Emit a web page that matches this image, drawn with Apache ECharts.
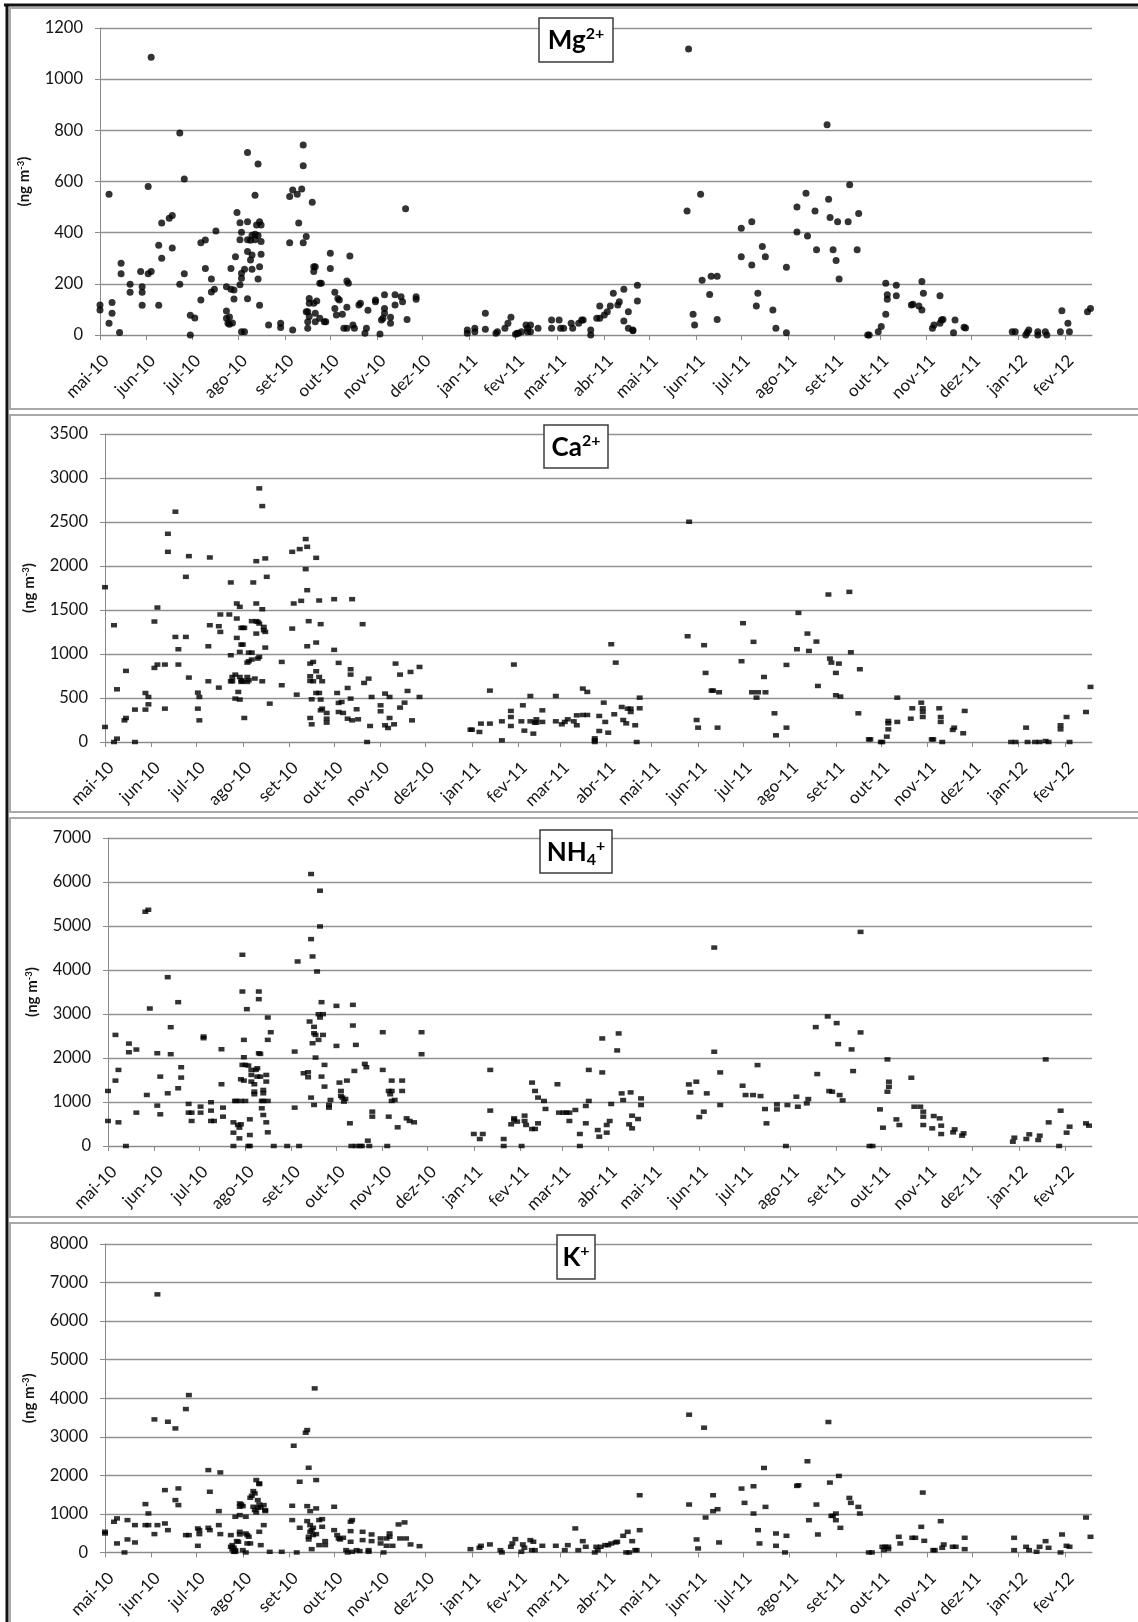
<!DOCTYPE html>
<html>
<head>
<meta charset="utf-8">
<script src="https://cdn.jsdelivr.net/npm/echarts@6/dist/echarts.min.js"></script>
<style>
  html, body { margin: 0; padding: 0; background: #fff; }
  #chart { width: 1138px; height: 1622px; }
</style>
</head>
<body>
<div id="chart"></div>
<script>
// Month ticks of the shared date axis
const xTickDates = ['2010-05-01','2010-06-01','2010-07-01','2010-08-01','2010-09-01','2010-10-01','2010-11-01','2010-12-01',
  '2011-01-01','2011-02-01','2011-03-01','2011-04-01','2011-05-01','2011-06-01','2011-07-01','2011-08-01','2011-09-01',
  '2011-10-01','2011-11-01','2011-12-01','2012-01-01','2012-02-01'];
const xTickLabels = ['mai-10','jun-10','jul-10','ago-10','set-10','out-10','nov-10','dez-10',
  'jan-11','fev-11','mar-11','abr-11','mai-11','jun-11','jul-11','ago-11','set-11',
  'out-11','nov-11','dez-11','jan-12','fev-12'];
const xStart = '2010-05-01';
const xEnd = '2012-02-19';

// Ion names and y-axis ranges
const ionLabels = ['{b|Mg}{p|2+}', '{b|Ca}{p|2+}', '{b|NH}{d|4}{p|+}', '{b|K}{p|+}'];
const yMaxes = [1200, 3500, 7000, 8000];
const ySteps = [200, 500, 1000, 1000];

// Mg2+ (ng m-3)
const mgData = [
['2010-05-01',117],['2010-05-01',98],['2010-05-07',550],['2010-05-07',46],['2010-05-09',127],['2010-05-09',85],['2010-05-14',10],['2010-05-15',280],['2010-05-15',239],['2010-05-21',198],['2010-05-21',167],['2010-05-28',248],['2010-05-29',189],['2010-05-29',167],['2010-05-29',116],
['2010-06-02',580],['2010-06-02',239],['2010-06-04',1086],['2010-06-04',248],['2010-06-09',116],['2010-06-09',351],['2010-06-11',300],['2010-06-11',438],['2010-06-16',456],['2010-06-18',467],['2010-06-18',340],['2010-06-23',790],['2010-06-23',198],['2010-06-26',610],['2010-06-26',239],['2010-06-30',0],['2010-06-30',77],
['2010-07-03',66],['2010-07-07',361],['2010-07-10',371],['2010-07-07',137],['2010-07-10',260],['2010-07-14',219],['2010-07-14',168],['2010-07-16',179],['2010-07-17',407],['2010-07-24',189],['2010-07-24',94],['2010-07-24',65],['2010-07-25',46],['2010-07-26',70],['2010-07-26',42],['2010-07-27',260],['2010-07-27',179],['2010-07-28',47],['2010-07-29',176],['2010-07-29',141],['2010-07-30',306],['2010-07-31',479],
['2010-08-02',439],['2010-08-02',372],['2010-08-02',196],['2010-08-03',222],['2010-08-03',241],['2010-08-03',13],['2010-08-05',13],['2010-08-03',402],['2010-08-05',257],['2010-08-07',713],['2010-08-07',142],['2010-08-07',372],['2010-08-07',443],['2010-08-07',326],['2010-08-09',293],['2010-08-09',370],['2010-08-10',257],['2010-08-10',313],['2010-08-10',390],['2010-08-12',546],['2010-08-12',394],['2010-08-12',372],['2010-08-13',430],['2010-08-14',389],['2010-08-14',668],['2010-08-14',219],['2010-08-15',443],['2010-08-15',267],['2010-08-15',116],['2010-08-16',316],['2010-08-16',365],['2010-08-16',430],['2010-08-21',39],['2010-08-29',46],['2010-08-29',29],
['2010-09-04',541],['2010-09-04',361],['2010-09-06',567],['2010-09-06',20],['2010-09-09',550],['2010-09-10',438],['2010-09-12',571],['2010-09-13',743],['2010-09-13',662],['2010-09-13',361],['2010-09-15',385],['2010-09-15',91],['2010-09-16',91],['2010-09-16',52],['2010-09-16',26],['2010-09-17',124],['2010-09-17',72],['2010-09-17',143],['2010-09-19',519],['2010-09-20',248],['2010-09-20',267],['2010-09-21',267],['2010-09-20',124],['2010-09-21',85],['2010-09-22',133],['2010-09-21',52],['2010-09-24',65],['2010-09-24',202],['2010-09-25',202],['2010-09-27',52],['2010-09-28',52],
['2010-10-01',320],['2010-10-01',260],['2010-10-04',167],['2010-10-04',104],['2010-10-05',78],['2010-10-06',143],['2010-10-07',137],['2010-10-09',81],['2010-10-12',211],['2010-10-13',202],['2010-10-14',309],['2010-10-12',108],['2010-10-10',26],['2010-10-12',26],['2010-10-16',39],['2010-10-17',26],['2010-10-20',117],['2010-10-21',124],['2010-10-24',7],['2010-10-25',26],['2010-10-26',97],['2010-10-31',130],['2010-10-31',137],
['2010-11-03',4],['2010-11-04',59],['2010-11-05',65],['2010-11-06',85],['2010-11-06',104],['2010-11-06',157],['2010-11-10',69],['2010-11-10',46],['2010-11-13',157],['2010-11-13',117],['2010-11-17',150],['2010-11-18',130],['2010-11-20',493],['2010-11-21',61],['2010-11-27',150],['2010-11-27',140],
['2010-12-31',7],['2010-12-31',20],['2011-01-05',13],['2011-01-05',26],['2011-01-12',85],['2011-01-12',22],['2011-01-19',7],['2011-01-20',13],['2011-01-25',26],['2011-01-27',46],['2011-01-29',69],['2011-02-01',3],['2011-02-02',7],['2011-02-03',7],['2011-02-05',13],['2011-02-08',39],['2011-02-09',13],['2011-02-09',26],['2011-02-11',39],['2011-02-11',13],['2011-02-16',26],['2011-02-25',59],['2011-02-25',26],['2011-03-02',59],['2011-03-03',26],['2011-03-05',26],['2011-03-10',46],['2011-03-11',26],
['2011-03-15',46],['2011-03-17',59],['2011-03-18',59],['2011-03-23',20],['2011-03-23',0],['2011-03-27',65],['2011-03-29',65],['2011-03-29',113],['2011-04-01',78],['2011-04-03',91],['2011-04-05',113],['2011-04-07',163],['2011-04-10',117],['2011-04-11',130],['2011-04-14',55],['2011-04-14',179],['2011-04-17',91],['2011-04-17',26],['2011-04-20',20],['2011-04-20',17],['2011-04-23',133],['2011-04-23',194],
['2011-05-26',485],['2011-05-27',1118],['2011-05-30',81],['2011-05-31',39],['2011-06-04',550],['2011-06-05',214],['2011-06-10',158],['2011-06-11',230],['2011-06-15',230],['2011-06-15',61],['2011-07-01',306],['2011-07-01',417],['2011-07-08',443],['2011-07-08',274],['2011-07-12',163],['2011-07-11',113],['2011-07-15',346],['2011-07-17',306],['2011-07-22',98],['2011-07-24',26],['2011-07-31',9],['2011-07-31',265],
['2011-08-07',403],['2011-08-07',500],['2011-08-13',554],['2011-08-14',387],['2011-08-19',485],['2011-08-20',333],['2011-08-27',822],['2011-08-28',531],['2011-08-29',459],['2011-08-31',333],['2011-09-02',291],['2011-09-03',443],['2011-09-04',219],['2011-09-10',443],['2011-09-11',587],['2011-09-16',333],['2011-09-17',475],['2011-09-23',0],['2011-09-24',0],['2011-09-30',13],
['2011-10-02',33],['2011-10-05',81],['2011-10-06',157],['2011-10-06',140],['2011-10-05',202],['2011-10-12',153],['2011-10-12',194],['2011-10-22',117],['2011-10-23',120],['2011-10-27',113],['2011-10-29',98],['2011-10-29',209],['2011-10-30',163],['2011-11-05',26],['2011-11-06',39],['2011-11-10',46],['2011-11-11',59],['2011-11-10',153],['2011-11-12',61],['2011-11-19',9],['2011-11-20',59],['2011-11-26',30],['2011-11-27',27],
['2011-12-28',13],['2011-12-30',13],['2012-01-06',0],['2012-01-07',10],['2012-01-08',20],['2012-01-14',0],['2012-01-14',13],['2012-01-19',13],['2012-01-20',0],['2012-01-29',13],['2012-01-30',95],['2012-02-03',46],['2012-02-04',13],['2012-02-16',91],['2012-02-18',104]
];

// Ca2+ (ng m-3)
const caData = [
['2010-05-01',1759],['2010-05-01',171],['2010-05-07',1327],['2010-05-07',0],['2010-05-09',599],['2010-05-09',38],['2010-05-14',246],['2010-05-15',273],['2010-05-15',808],['2010-05-21',368],['2010-05-21',0],['2010-05-28',368],['2010-05-28',557],['2010-05-30',512],['2010-05-30',428],
['2010-06-03',842],['2010-06-05',880],['2010-06-03',1369],['2010-06-05',1528],['2010-06-10',379],['2010-06-10',880],['2010-06-12',2366],['2010-06-12',2161],['2010-06-17',2617],['2010-06-17',1194],['2010-06-19',1054],['2010-06-19',880],['2010-06-24',1877],['2010-06-24',1194],['2010-06-26',2112],['2010-06-26',732],
['2010-07-02',561],['2010-07-02',379],['2010-07-03',512],['2010-07-03',246],['2010-07-09',1088],['2010-07-10',1327],['2010-07-10',2097],['2010-07-09',690],['2010-07-16',618],['2010-07-16',1316],['2010-07-17',1251],['2010-07-17',1449],
['2010-07-24',1813],['2010-07-23',1449],['2010-07-28',1574],['2010-07-28',1403],['2010-07-28',1183],['2010-07-30',1536],['2010-07-24',986],['2010-07-25',739],['2010-07-27',766],['2010-07-24',690],['2010-07-25',690],['2010-07-27',493],['2010-07-29',569],['2010-07-30',482],['2010-07-30',1024],['2010-07-31',1297],['2010-08-01',1297],['2010-08-02',1297],['2010-07-31',1107],['2010-08-01',1107],['2010-07-30',739],['2010-07-31',702],['2010-08-01',690],['2010-08-02',273],['2010-07-31',683],['2010-08-04',739],['2010-08-04',683],['2010-08-05',702],['2010-08-05',1016],['2010-08-07',1016],['2010-08-04',902],['2010-08-05',918],['2010-08-07',937],['2010-08-07',1373],['2010-08-08',1813],['2010-08-09',721],['2010-08-10',2055],['2010-08-10',1574],['2010-08-10',1373],['2010-08-10',1232],['2010-08-11',948],['2010-08-12',967],['2010-08-11',1365],['2010-08-12',1346],['2010-08-12',2882],['2010-08-14',2681],['2010-08-14',1509],['2010-08-14',690],['2010-08-15',1270],['2010-08-15',1308],['2010-08-16',1251],['2010-08-16',1073],['2010-08-16',2086],['2010-08-17',1877],['2010-08-19',436],['2010-08-27',910],['2010-08-27',645],
['2010-09-03',1289],['2010-09-03',2161],['2010-09-04',1574],['2010-09-06',538],['2010-09-08',2192],['2010-09-09',1604],['2010-09-12',2306],['2010-09-12',1964],['2010-09-13',1725],['2010-09-13',2218],['2010-09-13',1088],['2010-09-14',1373],['2010-09-15',891],['2010-09-15',747],['2010-09-15',694],['2010-09-15',273],['2010-09-16',201],['2010-09-16',485],['2010-09-17',910],['2010-09-17',690],['2010-09-19',2093],['2010-09-19',1130],['2010-09-19',804],['2010-09-19',557],['2010-09-21',1608],['2010-09-21',557],['2010-09-21',739],['2010-09-22',1339],['2010-09-22',482],['2010-09-22',360],['2010-09-23',690],['2010-09-23',379],['2010-09-26',330],['2010-09-26',265],['2010-09-26',220],
['2010-10-01',1623],['2010-10-01',1047],['2010-10-03',557],['2010-10-04',444],['2010-10-04',899],['2010-10-04',341],['2010-10-06',455],['2010-10-07',330],['2010-10-10',614],['2010-10-10',265],['2010-10-12',766],['2010-10-12',827],['2010-10-12',493],['2010-10-13',246],['2010-10-13',1623],['2010-10-16',372],['2010-10-17',258],['2010-10-20',1339],['2010-10-21',671],['2010-10-24',720],['2010-10-23',0],['2010-10-25',182],['2010-10-26',512],
['2010-11-01',417],['2010-11-01',349],['2010-11-04',550],['2010-11-04',190],['2010-11-06',159],['2010-11-07',273],['2010-11-07',512],['2010-11-10',201],['2010-11-11',891],['2010-11-14',766],['2010-11-14',391],['2010-11-17',447],['2010-11-19',580],['2010-11-21',796],['2010-11-22',246],['2010-11-27',512],['2010-11-27',853],
['2010-12-31',140],['2011-01-01',140],['2011-01-06',114],['2011-01-07',209],['2011-01-13',584],['2011-01-13',209],['2011-01-21',19],['2011-01-21',235],['2011-01-27',284],['2011-01-27',353],['2011-01-27',182],['2011-01-29',880],
['2011-02-03',235],['2011-02-04',417],['2011-02-05',129],['2011-02-09',523],['2011-02-09',235],['2011-02-11',95],['2011-02-12',220],['2011-02-13',258],['2011-02-13',220],['2011-02-17',228],['2011-02-17',360],['2011-02-26',235],['2011-02-26',523],
['2011-03-02',201],['2011-03-04',228],['2011-03-06',258],['2011-03-10',235],['2011-03-12',190],['2011-03-12',303],
['2011-03-16',307],['2011-03-16',607],['2011-03-19',569],['2011-03-19',307],['2011-03-24',19],['2011-03-24',0],['2011-03-24',42],['2011-03-27',125],['2011-03-27',296],['2011-03-30',447],['2011-03-31',228],['2011-04-02',106],['2011-04-04',1111],['2011-04-06',315],['2011-04-07',902],['2011-04-11',398],['2011-04-12',250],['2011-04-14',212],['2011-04-15',379],['2011-04-17',379],['2011-04-17',341],['2011-04-20',190],['2011-04-21',0],['2011-04-23',383],['2011-04-23',504],
['2011-05-25',1202],['2011-05-26',2503],['2011-05-31',250],['2011-06-01',163],['2011-06-05',1100],['2011-06-06',785],['2011-06-10',584],['2011-06-11',584],['2011-06-15',565],['2011-06-14',163],['2011-06-30',918],['2011-07-01',1350],['2011-07-07',565],['2011-07-08',1138],['2011-07-10',504],['2011-07-11',565],['2011-07-15',739],['2011-07-16',565],['2011-07-22',326],['2011-07-23',76],['2011-07-30',876],['2011-07-30',163],
['2011-08-06',1054],['2011-08-07',1467],['2011-08-13',1232],['2011-08-14',1035],['2011-08-19',1141],['2011-08-20',637],['2011-08-27',1676],['2011-08-28',948],['2011-08-29',902],['2011-09-01',785],['2011-09-03',891],['2011-09-01',531],['2011-09-04',516],['2011-09-10',1706],['2011-09-11',1020],['2011-09-17',827],['2011-09-16',326],['2011-09-23',30],['2011-09-24',30],
['2011-10-01',0],['2011-10-02',0],['2011-10-05',61],['2011-10-06',144],['2011-10-06',239],['2011-10-06',212],['2011-10-12',228],['2011-10-12',504],['2011-10-21',265],['2011-10-22',383],['2011-10-28',447],['2011-10-29',383],['2011-10-29',341],['2011-10-29',284],['2011-11-04',30],['2011-11-05',30],['2011-11-09',383],['2011-11-10',284],['2011-11-10',228],['2011-11-11',0],['2011-11-18',137],['2011-11-19',163],['2011-11-25',99],['2011-11-26',353],
['2011-12-27',0],['2011-12-30',0],['2012-01-06',163],['2012-01-07',0],['2012-01-12',0],['2012-01-15',0],['2012-01-19',11],['2012-01-21',0],['2012-01-29',144],['2012-01-29',190],['2012-02-02',284],['2012-02-04',0],['2012-02-15',341],['2012-02-18',626]
];

// NH4+ (ng m-3)
const nh4Data = [
['2010-05-01',1251],['2010-05-01',569],['2010-05-06',2525],['2010-05-06',1486],['2010-05-08',1729],['2010-05-08',538],['2010-05-13',0],['2010-05-15',2328],['2010-05-15',2131],['2010-05-20',2192],['2010-05-20',758],['2010-05-26',5324],['2010-05-28',5369],['2010-05-27',1160],['2010-05-29',3125],
['2010-06-03',2108],['2010-06-03',918],['2010-06-05',720],['2010-06-05',1577],['2010-06-10',3837],['2010-06-10',1198],['2010-06-12',2700],['2010-06-12',2086],['2010-06-17',3269],['2010-06-17',1312],['2010-06-19',1790],['2010-06-19',1555],['2010-06-24',956],['2010-06-24',758],['2010-06-26',758],['2010-06-26',569],
['2010-07-02',895],['2010-07-02',758],['2010-07-04',2488],['2010-07-04',2450],['2010-07-09',994],['2010-07-09',804],['2010-07-09',569],['2010-07-11',569],['2010-07-16',2199],['2010-07-16',1403],['2010-07-17',872],['2010-07-17',667],
['2010-07-24',0],['2010-07-24',303],['2010-07-24',538],['2010-07-25',1024],['2010-07-26',1024],['2010-07-27',478],['2010-07-28',174],['2010-07-28',417],['2010-07-29',493],['2010-07-29',1024],['2010-07-29',1517],['2010-07-30',1843],['2010-07-30',4346],['2010-07-30',3511],['2010-07-31',2017],['2010-07-31',2412],['2010-07-31',1486],['2010-08-01',1024],['2010-08-01',1843],['2010-08-02',3110],['2010-08-03',1828],['2010-08-03',0],['2010-08-04',607],['2010-08-04',0],['2010-08-04',250],['2010-08-05',1729],['2010-08-05',1464],['2010-08-05',1615],['2010-08-07',1236],['2010-08-07',1176],['2010-08-07',1403],['2010-08-08',1729],['2010-08-09',1577],['2010-08-09',1767],['2010-08-10',2108],['2010-08-10',3511],['2010-08-10',3337],['2010-08-11',2093],['2010-08-11',1577],['2010-08-12',857],['2010-08-12',1024],['2010-08-13',1274],['2010-08-13',1198],['2010-08-13',705],['2010-08-13',1024],['2010-08-15',1615],['2010-08-15',1464],['2010-08-15',538],['2010-08-16',1024],['2010-08-16',311],['2010-08-16',2920],['2010-08-16',2412],['2010-08-18',2586],['2010-08-20',0],['2010-08-29',0],
['2010-09-03',2146],['2010-09-03',872],['2010-09-05',4194],['2010-09-06',0],['2010-09-09',1653],['2010-09-12',1676],['2010-09-12',1562],['2010-09-13',2829],['2010-09-14',6181],['2010-09-14',4702],['2010-09-14',1100],['2010-09-15',4308],['2010-09-15',2336],['2010-09-16',2708],['2010-09-16',2563],['2010-09-16',933],['2010-09-17',2525],['2010-09-17',2010],['2010-09-18',3966],['2010-09-19',2996],['2010-09-19',2412],['2010-09-20',5802],['2010-09-20',4990],['2010-09-20',2920],['2010-09-21',3269],['2010-09-21',1577],['2010-09-22',2996],['2010-09-22',2525],['2010-09-23',1843],['2010-09-23',1350],['2010-09-26',933],['2010-09-26',872],['2010-09-27',1047],
['2010-10-01',3185],['2010-10-01',2275],['2010-10-03',1441],['2010-10-04',1251],['2010-10-04',1138],['2010-10-05',1100],['2010-10-06',1009],['2010-10-07',1069],['2010-10-08',1486],['2010-10-10',516],['2010-10-11',0],['2010-10-12',3208],['2010-10-12',2738],['2010-10-13',1706],['2010-10-14',2298],['2010-10-14',0],['2010-10-17',0],['2010-10-18',0],['2010-10-20',1866],['2010-10-21',1790],['2010-10-22',121],['2010-10-23',0],['2010-10-25',781],['2010-10-25',667],
['2010-11-01',2586],['2010-11-01',1729],['2010-11-04',0],['2010-11-05',667],['2010-11-05',1251],['2010-11-06',1176],['2010-11-07',1486],['2010-11-07',1024],['2010-11-07',1251],['2010-11-09',1047],['2010-11-11',425],['2010-11-14',1251],['2010-11-14',1486],['2010-11-17',629],['2010-11-19',569],['2010-11-22',538],['2010-11-27',2586],['2010-11-27',2086],
['2011-01-01',273],['2011-01-05',159],['2011-01-07',273],['2011-01-12',1729],['2011-01-12',804],['2011-01-21',159],['2011-01-21',0],['2011-01-26',493],['2011-01-28',629],['2011-01-28',592],['2011-01-30',554],['2011-02-02',0],['2011-02-04',690],['2011-02-04',569],['2011-02-05',478],['2011-02-09',1441],['2011-02-09',387],['2011-02-11',1251],['2011-02-11',387],['2011-02-13',1100],['2011-02-13',516],['2011-02-17',1024],['2011-02-18',842],['2011-02-26',1403],['2011-02-27',758],['2011-03-02',758],['2011-03-04',758],['2011-03-06',569],['2011-03-06',758],['2011-03-10',819],['2011-03-13',273],['2011-03-13',0],['2011-03-17',516],['2011-03-17',910],['2011-03-19',1729],['2011-03-19',1024],
['2011-03-25',363],['2011-03-26',212],['2011-03-28',2444],['2011-03-28',1672],['2011-03-31',477],['2011-03-31',303],['2011-04-02',568],['2011-04-03',954],['2011-04-07',2172],['2011-04-08',2558],['2011-04-10',1196],['2011-04-11',1044],['2011-04-15',492],['2011-04-16',1218],['2011-04-17',401],['2011-04-17',689],['2011-04-21',613],['2011-04-23',931],['2011-04-23',1082],
['2011-05-25',1400],['2011-05-26',1218],['2011-05-30',1461],['2011-06-01',658],['2011-06-04',780],['2011-06-06',1196],['2011-06-11',4510],['2011-06-11',2142],['2011-06-15',1672],['2011-06-15',931],['2011-06-30',1370],['2011-07-02',1158],['2011-07-07',1158],['2011-07-12',1135],['2011-07-10',1839],['2011-07-15',840],['2011-07-16',515],['2011-07-23',832],['2011-07-23',946],['2011-07-29',0],['2011-07-30',931],
['2011-08-05',1120],['2011-08-06',893],['2011-08-12',969],['2011-08-13',1067],['2011-08-18',2702],['2011-08-19',1635],['2011-08-26',2944],['2011-08-27',1249],['2011-08-29',1234],['2011-09-01',2793],['2011-09-02',2316],['2011-09-03',1158],['2011-09-05',1037],['2011-09-11',2195],['2011-09-12',1703],['2011-09-17',4866],['2011-09-17',2581],['2011-09-23',0],['2011-09-25',0],['2011-09-30',832],
['2011-10-02',416],['2011-10-05',1968],['2011-10-06',1461],['2011-10-06',1347],['2011-10-05',1234],['2011-10-11',605],['2011-10-13',477],['2011-10-21',1551],['2011-10-23',893],['2011-10-27',893],['2011-10-29',780],['2011-10-29',666],['2011-10-29',477],['2011-11-04',401],['2011-11-05',681],['2011-11-09',628],['2011-11-10',462],['2011-11-10',272],['2011-11-18',310],['2011-11-19',378],['2011-11-24',235],['2011-11-25',288],
['2011-12-28',98],['2011-12-29',189],['2012-01-06',159],['2012-01-08',265],['2012-01-14',136],['2012-01-15',235],['2012-01-19',1968],['2012-01-21',537],['2012-01-28',0],['2012-01-29',802],['2012-02-02',303],['2012-02-04',439],['2012-02-15',515],['2012-02-17',462]
];

// K+ (ng m-3)
const kData = [
['2010-05-01',536],['2010-05-01',493],['2010-05-07',796],['2010-05-09',882],['2010-05-09',234],['2010-05-14',0],['2010-05-16',839],['2010-05-16',337],['2010-05-21',709],['2010-05-21',259],['2010-05-28',1254],['2010-05-28',709],['2010-05-30',1012],['2010-05-30',709],
['2010-06-03',3451],['2010-06-03',476],['2010-06-05',6694],['2010-06-05',709],['2010-06-10',1617],['2010-06-10',752],['2010-06-12',3390],['2010-06-12',579],['2010-06-17',3217],['2010-06-17',1358],['2010-06-19',1661],['2010-06-19',1228],['2010-06-24',3719],['2010-06-24',450],['2010-06-26',4082],['2010-06-26',450],
['2010-07-02',623],['2010-07-02',173],['2010-07-03',579],['2010-07-03',476],['2010-07-09',2136],['2010-07-10',1574],['2010-07-09',640],['2010-07-10',579],['2010-07-16',1072],['2010-07-16',709],['2010-07-17',2076],['2010-07-17',476],
['2010-07-24',450],['2010-07-24',147],['2010-07-25',78],['2010-07-25',190],['2010-07-26',17],['2010-07-26',121],['2010-07-27',60],['2010-07-27',17],['2010-07-27',925],['2010-07-28',294],['2010-07-29',277],['2010-07-30',536],['2010-07-30',467],['2010-07-30',969],['2010-07-30',1185],['2010-07-30',1271],['2010-07-31',1245],['2010-08-01',1202],['2010-08-01',60],['2010-08-03',925],['2010-08-03',0],['2010-08-03',493],['2010-08-04',234],['2010-08-04',450],['2010-08-05',407],['2010-08-06',234],['2010-08-06',1418],['2010-08-07',1470],['2010-08-08',1591],['2010-08-08',1185],['2010-08-09',1531],['2010-08-09',1098],['2010-08-10',1877],['2010-08-10',1038],['2010-08-11',1159],['2010-08-11',1358],['2010-08-12',1245],['2010-08-12',1773],['2010-08-12',1790],['2010-08-12',536],['2010-08-13',1168],['2010-08-13',190],['2010-08-15',709],['2010-08-15',1228],['2010-08-16',1072],['2010-08-16',1098],['2010-08-19',17],['2010-08-27',17],
['2010-09-03',1211],['2010-09-03',839],['2010-09-04',2768],['2010-09-06',0],['2010-09-08',1834],['2010-09-08',640],['2010-09-12',3105],['2010-09-13',3174],['2010-09-13',1202],['2010-09-13',813],['2010-09-14',2197],['2010-09-14',337],['2010-09-14',407],['2010-09-15',709],['2010-09-15',1072],['2010-09-15',536],['2010-09-16',579],['2010-09-16',86],['2010-09-17',640],['2010-09-17',450],['2010-09-18',4255],['2010-09-19',1142],['2010-09-19',476],['2010-09-19',1877],['2010-09-21',190],['2010-09-21',839],['2010-09-23',666],['2010-09-23',865],['2010-09-25',294],['2010-09-25',190],
['2010-10-01',1185],['2010-10-01',579],['2010-10-03',450],['2010-10-04',363],['2010-10-05',337],['2010-10-07',381],['2010-10-09',60],['2010-10-10',0],['2010-10-12',796],['2010-10-13',839],['2010-10-12',553],['2010-10-12',277],['2010-10-13',17],['2010-10-16',60],['2010-10-18',35],['2010-10-20',536],['2010-10-20',320],['2010-10-24',60],['2010-10-24',17],['2010-10-26',467],['2010-10-26',294],
['2010-11-01',363],['2010-11-01',234],['2010-11-03',0],['2010-11-05',173],['2010-11-05',363],['2010-11-07',493],['2010-11-07',407],['2010-11-09',173],['2010-11-13',727],['2010-11-14',363],['2010-11-17',779],['2010-11-18',363],['2010-11-21',208],['2010-11-27',164],
['2010-12-31',86],['2011-01-06',121],['2011-01-07',173],['2011-01-13',208],['2011-01-20',60],['2011-01-21',0],['2011-01-27',147],['2011-01-28',234],['2011-01-30',346],['2011-02-03',17],['2011-02-04',208],['2011-02-05',121],['2011-02-09',320],['2011-02-10',60],['2011-02-11',277],['2011-02-12',60],['2011-02-17',173],['2011-02-26',173],['2011-03-04',60],['2011-03-06',190],['2011-03-11',623],['2011-03-13',60],
['2011-03-16',293],['2011-03-18',147],['2011-03-24',0],['2011-03-25',147],['2011-03-26',60],['2011-03-28',147],['2011-03-31',190],['2011-04-02',190],['2011-04-04',233],['2011-04-07',259],['2011-04-08',276],['2011-04-12',432],['2011-04-14',0],['2011-04-15',535],['2011-04-16',0],['2011-04-18',293],['2011-04-20',60],['2011-04-21',60],['2011-04-23',1484],['2011-04-23',578],
['2011-05-26',1243],['2011-05-26',3573],['2011-05-31',337],['2011-06-01',104],['2011-06-05',3236],['2011-06-06',906],['2011-06-11',1484],['2011-06-11',1070],['2011-06-14',1122],['2011-06-15',259],['2011-06-30',1657],['2011-07-02',1286],['2011-07-08',1717],['2011-07-08',1010],['2011-07-11',578],['2011-07-12',233],['2011-07-15',2192],['2011-07-16',1182],['2011-07-23',492],['2011-07-23',173],['2011-07-29',0],['2011-07-30',432],
['2011-08-06',1726],['2011-08-07',1743],['2011-08-13',2365],['2011-08-14',837],['2011-08-19',1243],['2011-08-20',466],['2011-08-27',3383],['2011-08-28',1812],['2011-08-29',949],['2011-08-30',949],['2011-09-01',1010],['2011-09-01',837],['2011-09-03',1985],['2011-09-04',639],['2011-09-10',1415],['2011-09-11',1286],['2011-09-16',1182],['2011-09-17',1010],['2011-09-23',0],['2011-09-25',0],
['2011-10-02',147],['2011-10-03',60],['2011-10-04',147],['2011-10-06',86],['2011-10-06',147],['2011-10-13',406],['2011-10-14',233],['2011-10-22',380],['2011-10-24',380],['2011-10-28',665],['2011-10-29',1553],['2011-10-30',302],['2011-11-05',60],['2011-11-06',60],['2011-11-10',811],['2011-11-11',121],['2011-11-12',207],['2011-11-18',147],['2011-11-20',147],['2011-11-26',380],['2011-11-26',86],
['2011-12-29',380],['2011-12-29',60],['2012-01-06',147],['2012-01-08',60],['2012-01-13',17],['2012-01-15',147],['2012-01-19',293],['2012-01-21',121],['2012-01-29',0],['2012-01-30',466],['2012-02-02',173],['2012-02-04',147],['2012-02-15',906],['2012-02-18',406]
];

const seriesData = [mgData, caData, nh4Data, kData];

// ---- layout ----
const FONT = 'Lato, "Liberation Sans", sans-serif';
const gridBoxes = [
  { left: 100, top: 28,   width: 992, height: 307 },
  { left: 105, top: 434,  width: 987, height: 308 },
  { left: 108, top: 838,  width: 984, height: 308 },
  { left: 105, top: 1244, width: 987, height: 309 }
];
const panelFrames = [
  { y: 8, h: 401 }, { y: 415, h: 397 }, { y: 818, h: 399 }, { y: 1223, h: 420 }
];
const labelBoxes = [
  { x: 539, y: 18,   w: 74, h: 44 },
  { x: 544, y: 425,  w: 64, h: 43 },
  { x: 540, y: 830,  w: 72, h: 43 },
  { x: 557, y: 1235, w: 38, h: 44 }
];
const markerShapes = [
  { symbol: 'circle', size: 7 },
  { symbol: 'rect', size: [6, 4.5] },
  { symbol: 'rect', size: [6, 4.5] },
  { symbol: 'rect', size: [6, 4.5] }
];

// dates become whole-day numbers on a linear axis
const DAY = 86400000;
function toDay(s) {
  const p = s.split('-').map(Number);
  return Math.round(Date.UTC(p[0], p[1] - 1, p[2]) / DAY);
}
const tickDays = xTickDates.map(toDay);
const labelOf = {};
tickDays.forEach((t, i) => { labelOf[t] = xTickLabels[i]; });

const axisGray = '#8a8a8a';
const textColor = '#141414';
const grids = [], xAxes = [], yAxes = [], series = [], graphics = [];

gridBoxes.forEach((g, i) => {
  grids.push({ left: g.left, top: g.top, width: g.width, height: g.height, containLabel: false });
  xAxes.push({
    type: 'value', gridIndex: i,
    min: toDay(xStart), max: toDay(xEnd),
    axisLine: { show: true, onZero: false, lineStyle: { color: axisGray, width: 1 } },
    axisTick: { show: true, customValues: tickDays, length: 5, lineStyle: { color: axisGray } },
    axisLabel: {
      customValues: tickDays, rotate: 45, margin: 17, verticalAlign: 'top',
      fontFamily: FONT, fontSize: 17, color: textColor,
      formatter: v => labelOf[Math.round(v)] || ''
    },
    splitLine: { show: false }
  });
  yAxes.push({
    type: 'value', gridIndex: i, min: 0, max: yMaxes[i], interval: ySteps[i],
    axisLine: { show: true, lineStyle: { color: axisGray, width: 1 } },
    axisTick: { show: true, length: 5, lineStyle: { color: axisGray } },
    axisLabel: { fontFamily: FONT, fontSize: 16.5, color: textColor, margin: 17, formatter: v => String(v) },
    splitLine: { show: true, lineStyle: { color: '#929292', width: 1.4 } },
    name: '{n|(ng m}{s|-3}{n|)}',
    nameLocation: 'middle', nameRotate: 90, nameGap: 68,
    nameTextStyle: {
      rich: {
        n: { fontFamily: FONT, fontSize: 15, fontWeight: 'bold', color: textColor },
        s: { fontFamily: FONT, fontSize: 9.5, fontWeight: 'bold', color: textColor, verticalAlign: 'top', padding: [0, 0, 6, 0] }
      }
    }
  });
  series.push({
    type: 'scatter', xAxisIndex: i, yAxisIndex: i,
    symbol: markerShapes[i].symbol, symbolSize: markerShapes[i].size,
    itemStyle: { color: '#000' }, clip: false, silent: true,
    data: seriesData[i].map(d => [toDay(d[0]), d[1]])
  });

  const f = panelFrames[i];
  graphics.push({
    type: 'rect', z: 0, silent: true,
    shape: { x: 10, y: f.y, width: 1160, height: f.h },
    style: { fill: null, stroke: '#a9a9a9', lineWidth: 2 }
  });
  const b = labelBoxes[i];
  graphics.push({
    type: 'rect', z: 10, silent: true,
    shape: { x: b.x, y: b.y, width: b.w, height: b.h },
    style: { fill: '#fff', stroke: '#3c3c3c', lineWidth: 1.5 }
  });
  graphics.push({
    type: 'text', z: 11, silent: true,
    x: b.x + b.w / 2, y: b.y + b.h / 2 + 1,
    style: {
      text: ionLabels[i], align: 'center', verticalAlign: 'middle',
      rich: {
        b: { fontFamily: FONT, fontSize: 26, fontWeight: 'bold', fill: '#000', lineHeight: 30 },
        p: { fontFamily: FONT, fontSize: 16, fontWeight: 'bold', fill: '#000', verticalAlign: 'top', lineHeight: 16 },
        d: { fontFamily: FONT, fontSize: 16, fontWeight: 'bold', fill: '#000', verticalAlign: 'bottom', lineHeight: 12 }
      }
    }
  });
});

// outer dark frame (top and left edges)
graphics.push({ type: 'line', z: 12, silent: true, shape: { x1: 4, y1: 5, x2: 1138, y2: 5 }, style: { stroke: '#111', lineWidth: 3 } });
graphics.push({ type: 'line', z: 12, silent: true, shape: { x1: 7, y1: 4, x2: 7, y2: 1622 }, style: { stroke: '#111', lineWidth: 3 } });

const chart = echarts.init(document.getElementById('chart'), null, { renderer: 'canvas' });
chart.setOption({
  backgroundColor: '#fff',
  animation: false,
  grid: grids,
  xAxis: xAxes,
  yAxis: yAxes,
  series: series,
  graphic: graphics
});
</script>
</body>
</html>
